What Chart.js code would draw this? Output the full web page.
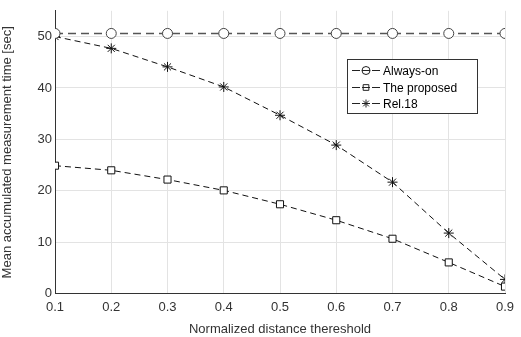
<!DOCTYPE html>
<html>
<head>
<meta charset="utf-8">
<script src="https://cdn.jsdelivr.net/npm/chart.js@4/dist/chart.umd.min.js"></script>
<style>
  html, body { margin: 0; padding: 0; background: #fff; }
  #wrap { width: 521px; height: 337px; }
</style>
</head>
<body>
<div id="wrap"><canvas id="chart" width="521" height="337"></canvas></div>
<script>
const thresholds = [0.1, 0.2, 0.3, 0.4, 0.5, 0.6, 0.7, 0.8, 0.9];
const alwaysOn = [50.6, 50.6, 50.6, 50.6, 50.6, 50.6, 50.6, 50.6, 50.6];
const proposed = [24.9, 24.0, 22.2, 20.1, 17.4, 14.3, 10.7, 6.1, 1.4];
const rel18 = [50.0, 47.7, 44.1, 40.2, 34.7, 28.9, 21.7, 11.8, 2.8];
const seriesNames = ["Always-on", "The proposed", "Rel.18"];

const FONT = "'Liberation Sans', Arial, sans-serif";

function pts(values) {
  return thresholds.map((x, i) => ({ x: x, y: values[i] }));
}

// legend drawn inside the plot, matlab style
const boxLegend = {
  id: "boxLegend",
  afterDraw(chart) {
    const ctx = chart.ctx;
    const x0 = 347, y0 = 59, w = 130, h = 54;
    ctx.save();
    ctx.fillStyle = "#fff";
    ctx.fillRect(x0, y0, w, h);
    ctx.strokeStyle = "#333";
    ctx.lineWidth = 1;
    ctx.setLineDash([]);
    ctx.strokeRect(x0 + 0.5, y0 + 0.5, w, h);
    chart.data.datasets.forEach((ds, i) => {
      const cy = Math.round(y0 + 11 + i * 16.5) + 0.5;
      ctx.setLineDash([]);
      ctx.strokeStyle = "#222";
      ctx.lineWidth = 1;
      ctx.beginPath();
      ctx.moveTo(x0 + 5, cy); ctx.lineTo(x0 + 13, cy);
      ctx.moveTo(x0 + 15, cy); ctx.lineTo(x0 + 23, cy);
      ctx.moveTo(x0 + 25, cy); ctx.lineTo(x0 + 33, cy);
      ctx.stroke();
      ctx.fillStyle = ds.pointStyle === "star" ? "#111" : "rgba(0,0,0,0)";
      ctx.strokeStyle = "#222";
      Chart.helpers.drawPoint(ctx, {
        pointStyle: ds.pointStyle,
        radius: 4,
        borderWidth: 1
      }, x0 + 19, cy);
      ctx.fillStyle = "#000";
      ctx.font = "12px " + FONT;
      ctx.textBaseline = "middle";
      ctx.fillText(ds.label, x0 + 36, cy + 1);
    });
    ctx.restore();
  }
};

new Chart(document.getElementById("chart"), {
  type: "line",
  data: {
    datasets: [
      {
        label: seriesNames[0],
        data: pts(alwaysOn),
        borderColor: "#555",
        borderWidth: 1.5,
        borderDash: [8, 5],
        pointStyle: "circle",
        pointRadius: 5,
        pointBackgroundColor: "#fff",
        pointBorderColor: "#444",
        pointBorderWidth: 1
      },
      {
        label: seriesNames[1],
        data: pts(proposed),
        borderColor: "#111",
        borderWidth: 1,
        borderDash: [6, 4],
        pointStyle: "rect",
        pointRadius: 5,
        pointBackgroundColor: "#fff",
        pointBorderColor: "#111",
        pointBorderWidth: 1
      },
      {
        label: seriesNames[2],
        data: pts(rel18),
        borderColor: "#111",
        borderWidth: 1,
        borderDash: [6, 4],
        pointStyle: "star",
        pointRadius: 5,
        pointBackgroundColor: "#111",
        pointBorderColor: "#111",
        pointBorderWidth: 1
      }
    ]
  },
  options: {
    responsive: false,
    animation: false,
    layout: { padding: { top: 6, right: 16, left: 0, bottom: 0 } },
    plugins: { legend: { display: false }, tooltip: { enabled: false } },
    scales: {
      x: {
        type: "linear",
        min: 0.1,
        max: 0.9,
        ticks: {
          stepSize: 0.1,
          color: "#333",
          font: { family: FONT, size: 13 },
          padding: 6,
          callback: v => v.toFixed(1)
        },
        grid: { color: "#e3e3e3", tickLength: 0 },
        border: { color: "#333", width: 1 },
        title: {
          display: true,
          text: "Normalized distance thereshold",
          color: "#333",
          font: { family: FONT, size: 13 },
          padding: { top: 0, bottom: 0 }
        }
      },
      y: {
        min: 0,
        max: 55,
        afterBuildTicks: s => { s.ticks = s.ticks.filter(t => t.value <= 50); },
        afterFit: s => { s.width = 55; },
        ticks: {
          stepSize: 10,
          color: "#333",
          font: { family: FONT, size: 13 },
          padding: 3
        },
        grid: { color: "#e3e3e3", tickLength: 0 },
        border: { color: "#333", width: 1 },
        title: {
          display: true,
          text: "Mean accumulated measurement time [sec]",
          color: "#333",
          font: { family: FONT, size: 13 },
          padding: { top: 0, bottom: 2 }
        }
      }
    }
  },
  plugins: [boxLegend]
});
</script>
</body>
</html>
